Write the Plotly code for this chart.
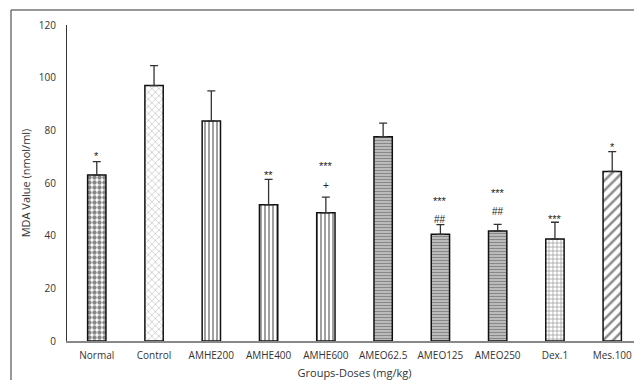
import plotly.graph_objects as go

categories = ["Normal", "Control", "AMHE200", "AMHE400", "AMHE600",
              "AMEO62.5", "AMEO125", "AMEO250", "Dex.1", "Mes.100"]
mda_values = [63.0, 97.0, 83.5, 51.7, 48.7, 77.6, 40.5, 41.8, 38.7, 64.4]
mda_errors = [5.1, 7.6, 11.5, 9.7, 5.9, 5.1, 3.7, 2.5, 6.4, 7.5]
sig_star = ["*", "", "", "**", "***", "", "***", "***", "***", "*"]
sig_star_y = [70.3, None, None, 63.0, 66.5, None, 53.2, 56.3, 46.4, 73.5]
sig_mark = ["", "", "", "", "+", "", "##", "##", "", ""]
sig_mark_y = [None, None, None, None, 59.2, None, 46.3, 49.0, None, None]

patterns = [
    dict(shape=".", fgcolor="#111111", bgcolor="white", size=5, solidity=0.6),
    dict(shape="x", fgcolor="#888888", bgcolor="white", size=5, solidity=0.25),
    dict(shape="|", fgcolor="#111111", bgcolor="white", size=4, solidity=0.4),
    dict(shape="|", fgcolor="#111111", bgcolor="white", size=4, solidity=0.4),
    dict(shape="|", fgcolor="#111111", bgcolor="white", size=4, solidity=0.4),
    dict(shape="-", fgcolor="#444444", bgcolor="#cccccc", size=3, solidity=0.5),
    dict(shape="-", fgcolor="#444444", bgcolor="#cccccc", size=3, solidity=0.5),
    dict(shape="-", fgcolor="#444444", bgcolor="#cccccc", size=3, solidity=0.5),
    dict(shape="+", fgcolor="#222222", bgcolor="white", size=4, solidity=0.3),
    dict(shape="/", fgcolor="#111111", bgcolor="white", size=7, solidity=0.35),
]

fig = go.Figure()
for i, cat in enumerate(categories):
    fig.add_trace(go.Bar(
        x=[cat], y=[mda_values[i]],
        width=0.32,
        marker=dict(color="white", line=dict(color="#111111", width=1.5),
                    pattern=patterns[i]),
        error_y=dict(type="data", symmetric=False, array=[mda_errors[i]],
                     arrayminus=[0], color="#333333", thickness=1.3, width=4),
        showlegend=False,
    ))

annotations = []
for i, cat in enumerate(categories):
    if sig_star[i]:
        annotations.append(dict(x=cat, y=sig_star_y[i], text=sig_star[i], showarrow=False,
                                xref="x", yref="y", yanchor="middle",
                                font=dict(size=11, color="#222222", family="Liberation Sans")))
    if sig_mark[i]:
        annotations.append(dict(x=cat, y=sig_mark_y[i], text=sig_mark[i], showarrow=False,
                                xref="x", yref="y", yanchor="middle",
                                font=dict(size=10, color="#222222", family="Liberation Sans")))

fig.update_layout(
    width=634, height=372,
    margin=dict(l=59, r=0, t=17, b=39),
    paper_bgcolor="white", plot_bgcolor="white",
    font=dict(family="Open Sans", size=10, color="#333333"),
    annotations=annotations,
    shapes=[dict(type="rect", xref="paper", yref="paper",
                 x0=-0.0974, x1=1.2, y0=-0.4, y1=1.0475,
                 line=dict(color="#333333", width=1), fillcolor="rgba(0,0,0,0)",
                 layer="below")],
)
fig.update_xaxes(
    range=[-0.52, 9.52], showline=True, linecolor="#888888", linewidth=1.5,
    ticks="", showgrid=False, ticklabelstandoff=4,
    title=dict(text="Groups-Doses (mg/kg)", standoff=9, font=dict(size=11, color="#333333")),
    tickfont=dict(size=10, color="#333333"),
)
fig.update_yaxes(
    range=[0, 120], dtick=20, showline=True, linecolor="#333333", linewidth=1.2,
    ticks="", showgrid=False, zeroline=False, ticklabelstandoff=8,
    title=dict(text="MDA Value (nmol/ml)", standoff=5, font=dict(size=11, color="#333333")),
    tickfont=dict(size=10, color="#333333"),
)

fig.write_html("out.html")
